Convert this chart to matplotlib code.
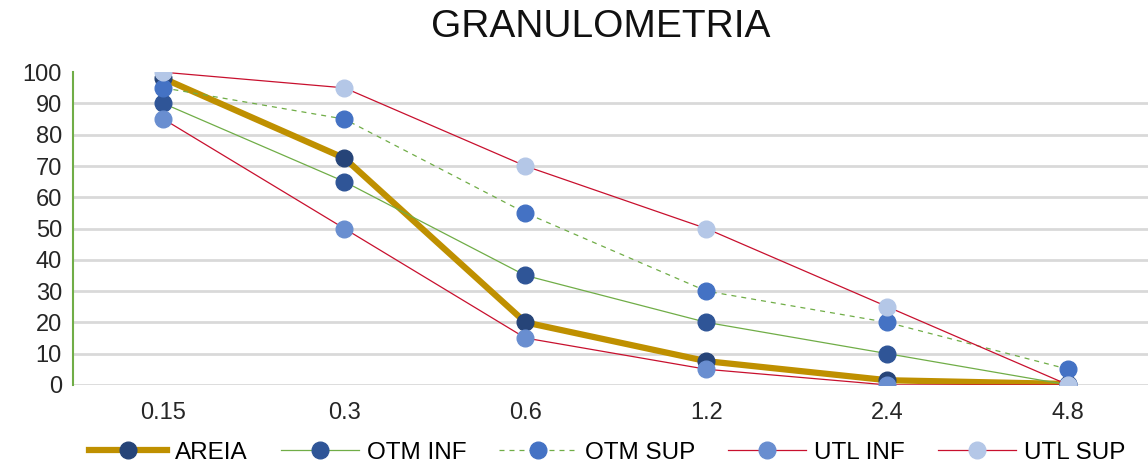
import matplotlib
matplotlib.use("Agg")
import matplotlib.pyplot as plt
import numpy as np

plt.rcParams["font.family"] = ["Liberation Sans", "DejaVu Sans"]

# sieve openings (mm) and cumulative passing (%)
sieves = ["0.15", "0.3", "0.6", "1.2", "2.4", "4.8"]
areia = [98, 72.5, 20, 7.6, 1.5, 0.3]
otm_inf = [90, 65, 35, 20, 10, 0]
otm_sup = [95, 85, 55, 30, 20, 5]
utl_inf = [85, 50, 15, 5, 0, 0]
utl_sup = [100, 95, 70, 50, 25, 0]

x = np.arange(len(sieves))

fig = plt.figure(figsize=(11.48, 4.66), dpi=100)
ax = fig.add_axes([0.0636, 0.174, 0.9364, 0.671])

ms = 12
ax.plot(x, areia, color="#BF9000", lw=4.5, marker="o", ms=ms,
        mfc="#264478", mec="#264478", label="AREIA", zorder=3)
ax.plot(x, otm_inf, color="#70AD47", lw=0.9, marker="o", ms=ms,
        mfc="#2F5597", mec="#2F5597", label="OTM INF", zorder=4)
ax.plot(x, otm_sup, color="#70AD47", lw=0.9, ls=(0, (4, 4)), marker="o", ms=ms,
        mfc="#4472C4", mec="#4472C4", label="OTM SUP", zorder=5)
ax.plot(x, utl_inf, color="#C8102E", lw=0.9, marker="o", ms=ms,
        mfc="#698ED0", mec="#698ED0", label="UTL INF", zorder=6)
ax.plot(x, utl_sup, color="#C8102E", lw=0.9, marker="o", ms=ms,
        mfc="#B4C7E7", mec="#B4C7E7", label="UTL SUP", zorder=7)

ax.set_xlim(-0.5, 5.44)
ax.set_ylim(0, 100)
ax.set_xticks(x)
ax.set_xticklabels(sieves)
ax.set_yticks(np.arange(0, 101, 10))
ax.tick_params(axis="both", length=0, labelsize=17, colors="#262626")
ax.tick_params(axis="x", pad=12)
ax.tick_params(axis="y", pad=8)

for v in range(0, 100, 10):
    ax.axhline(v, color="#D9D9D9", lw=2, zorder=1)

for s in ["top", "right", "bottom"]:
    ax.spines[s].set_visible(False)
ax.spines["left"].set_color("#70AD47")
ax.spines["left"].set_linewidth(1.5)
ax.spines["left"].set_zorder(2)

fig.text(0.523, 0.943, "GRANULOMETRIA", ha="center", va="center",
         fontsize=28, color="#111111")

fig.legend(loc="center", bbox_to_anchor=(0.529, 0.028), ncol=5,
           frameon=False, fontsize=17.5, handlelength=3.2, columnspacing=1.36,
           handletextpad=0.33, borderpad=0)

fig.savefig("out.png", dpi=100)
